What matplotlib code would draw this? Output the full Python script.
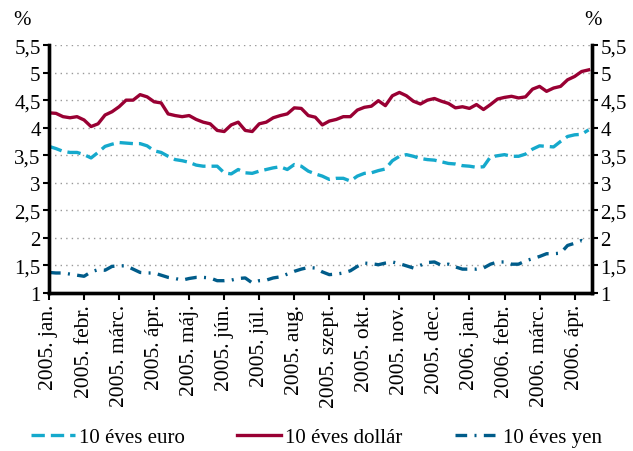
import numpy as np
import matplotlib.pyplot as plt

plt.rcParams['font.family'] = ['Liberation Serif', 'DejaVu Serif']

# month labels on the x axis (one tick per month)
month_labels = ['2005. jan.', '2005. febr.', '2005. márc.', '2005. ápr.', '2005. máj.',
                '2005. jún.', '2005. júl.', '2005. aug.', '2005. szept.', '2005. okt.',
                '2005. nov.', '2005. dec.', '2006. jan.', '2006. febr.', '2006. márc.',
                '2006. ápr.']

# sampling points, in months since 2005 jan (every ~6 days)
t = np.arange(78) * 0.2

euro = [3.66, 3.62, 3.57, 3.55, 3.55, 3.51, 3.45, 3.55, 3.66, 3.70,
        3.73, 3.72, 3.71, 3.71, 3.67, 3.58, 3.55, 3.48, 3.42, 3.40,
        3.37, 3.32, 3.30, 3.30, 3.30, 3.18, 3.16, 3.24, 3.18, 3.17,
        3.21, 3.24, 3.27, 3.29, 3.24, 3.33, 3.30, 3.21, 3.16, 3.12,
        3.06, 3.08, 3.08, 3.03, 3.12, 3.17, 3.18, 3.22, 3.25, 3.40,
        3.48, 3.51, 3.48, 3.44, 3.42, 3.41, 3.38, 3.35, 3.34, 3.31,
        3.30, 3.28, 3.29, 3.47, 3.49, 3.51, 3.48, 3.48, 3.52, 3.61,
        3.67, 3.66, 3.65, 3.75, 3.84, 3.87, 3.88, 3.96]

dollar = [4.27, 4.26, 4.20, 4.18, 4.20, 4.14, 4.02, 4.07, 4.23, 4.29,
          4.38, 4.50, 4.50, 4.60, 4.56, 4.47, 4.45, 4.25, 4.22, 4.20,
          4.22, 4.15, 4.10, 4.07, 3.95, 3.93, 4.05, 4.10, 3.95, 3.93,
          4.07, 4.10, 4.18, 4.22, 4.25, 4.36, 4.35, 4.22, 4.19, 4.05,
          4.12, 4.15, 4.20, 4.20, 4.32, 4.37, 4.39, 4.49, 4.40, 4.58,
          4.64, 4.58, 4.48, 4.43, 4.50, 4.53, 4.48, 4.44, 4.36, 4.38,
          4.35, 4.42, 4.33, 4.42, 4.52, 4.55, 4.57, 4.54, 4.56, 4.70,
          4.75, 4.66, 4.72, 4.75, 4.87, 4.93, 5.02, 5.05]

yen = [1.37, 1.36, 1.36, 1.34, 1.32, 1.30, 1.38, 1.42, 1.41, 1.48,
       1.49, 1.49, 1.43, 1.37, 1.36, 1.36, 1.32, 1.28, 1.26, 1.23,
       1.26, 1.28, 1.28, 1.27, 1.22, 1.22, 1.23, 1.26, 1.27, 1.18,
       1.22, 1.23, 1.27, 1.29, 1.34, 1.39, 1.43, 1.46, 1.45, 1.38,
       1.33, 1.34, 1.36, 1.40, 1.48, 1.54, 1.53, 1.51, 1.54, 1.56,
       1.53, 1.49, 1.45, 1.50, 1.55, 1.56, 1.50, 1.52, 1.47, 1.43,
       1.43, 1.43, 1.45, 1.52, 1.56, 1.56, 1.52, 1.52, 1.58, 1.62,
       1.66, 1.71, 1.71, 1.72, 1.86, 1.90, 1.95, 1.89]

yticks = [1, 1.5, 2, 2.5, 3, 3.5, 4, 4.5, 5, 5.5]
ytick_labels = ['1', '1,5', '2', '2,5', '3', '3,5', '4', '4,5', '5', '5,5']

fs = 15

fig = plt.figure(figsize=(6.33, 4.52), dpi=100)
ax = fig.add_axes([0.0774, 0.350, 0.858, 0.548])

ax.plot(t, euro, color='#15A9CC', lw=2.4, dashes=(4, 1.8), label='10 éves euro')
ax.plot(t, dollar, color='#990033', lw=2.4, label='10 éves dollár')
ax.plot(t, yen, color='#005C8A', lw=2.4, dashes=(3.5, 2.2, 0.6, 2.2), label='10 éves yen')

ax.set_xlim(0, 15.5)
ax.set_ylim(1, 5.5)
ax.set_yticks(yticks)
ax.set_yticklabels(ytick_labels, fontsize=fs)
ax.set_xticks(np.arange(len(month_labels)))
ax.set_xticklabels(month_labels, rotation=90, fontsize=15.5)
ax.tick_params(axis='x', direction='out', length=5, width=1.5, pad=3)
ax.tick_params(axis='y', direction='out', length=4, width=1.5, pad=2)

for g in yticks[1:]:
    ax.axhline(g, color='#999999', lw=1, ls=(0, (1, 3)), zorder=0)

ax.spines['top'].set_visible(False)
for s in ['left', 'right', 'bottom']:
    ax.spines[s].set_linewidth(2.4)

ax2 = ax.twinx()
ax2.set_ylim(1, 5.5)
ax2.set_yticks(yticks)
ax2.set_yticklabels(ytick_labels, fontsize=fs)
ax2.tick_params(axis='y', direction='out', length=4, width=1.5, pad=2)
ax2.spines['top'].set_visible(False)
for s in ['left', 'right', 'bottom']:
    ax2.spines[s].set_linewidth(2.4)

fig.text(0.035, 0.955, '%', fontsize=fs, ha='center', va='center')
fig.text(0.937, 0.955, '%', fontsize=fs, ha='center', va='center')

fig.legend(loc='center', bbox_to_anchor=(0.5, 0.03), ncol=3, frameon=False,
           fontsize=fs, handlelength=2.1, columnspacing=2.5, handletextpad=0.2)

fig.savefig('out.png', dpi=100)
